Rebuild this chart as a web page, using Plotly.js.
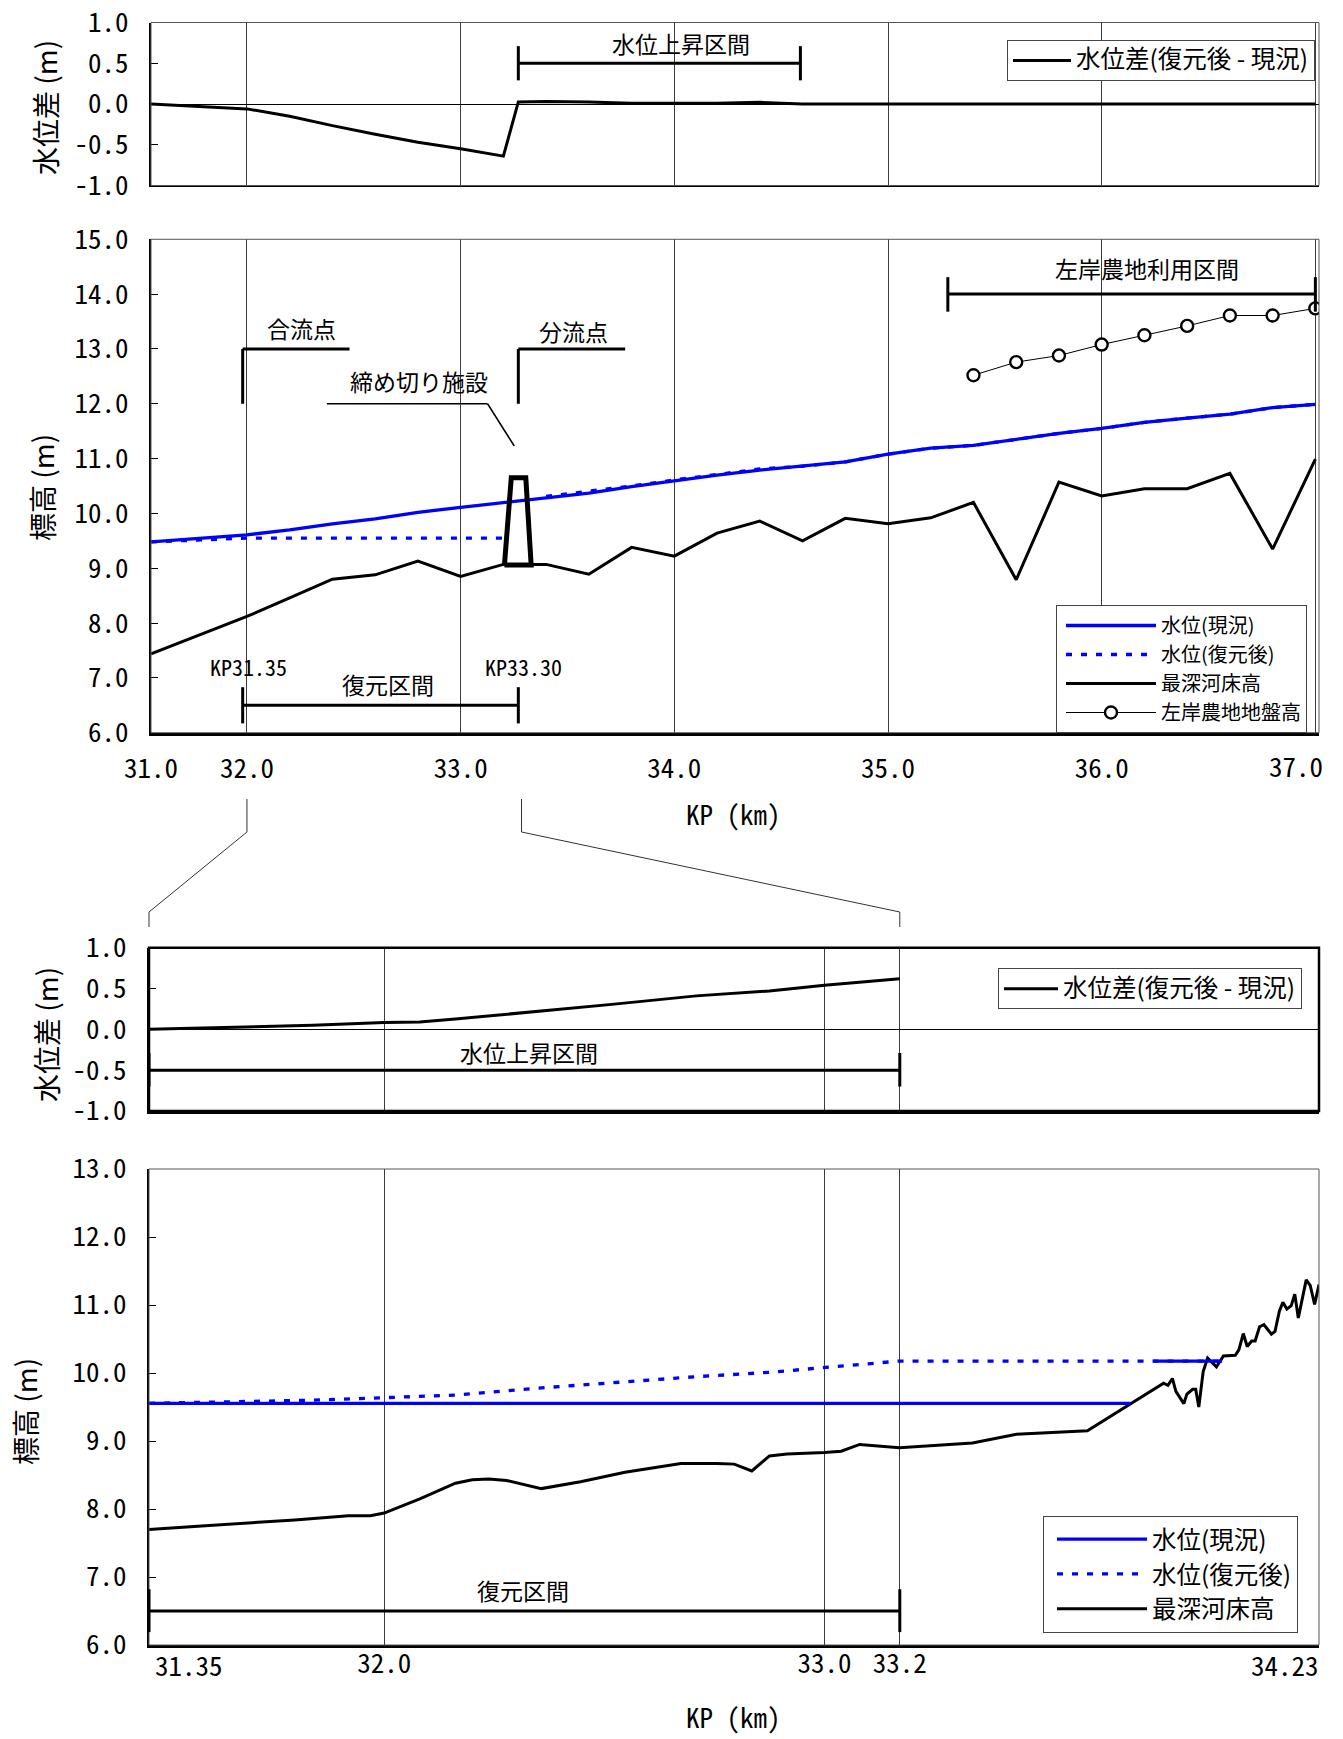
<!DOCTYPE html>
<html>
<head>
<meta charset="utf-8">
<script src="https://cdn.plot.ly/plotly-3.0.1.min.js"></script>
<style>
  html, body { margin: 0; padding: 0; background: #fff; }
  #chart { width: 1343px; height: 1739px; }
</style>
</head>
<body>
<div id="chart"></div>
<script>
// ===== Longitudinal profile, KP 31.0 - 37.0 =====
const kp = [31.551, 32.0, 32.2, 32.4, 32.6, 32.8, 33.0, 33.2, 33.27, 33.4, 33.6, 33.8, 34.0, 34.2,
            34.4, 34.6, 34.8, 35.0, 35.2, 35.4, 35.6, 35.8, 36.0, 36.2, 36.4, 36.6, 36.8, 37.0];
const bedElev = [7.44, 8.12, 8.46, 8.80, 8.88, 9.13, 8.85, 9.07, 9.07, 9.07, 8.89, 9.38, 9.22, 9.64,
                 9.86, 9.50, 9.91, 9.81, 9.92, 10.20, 8.79, 10.57, 10.32, 10.45, 10.45, 10.73, 9.35, 10.99];
const wlNow = [9.48, 9.61, 9.70, 9.81, 9.90, 10.02, 10.11, 10.20, 10.23, 10.28, 10.37, 10.49, 10.60, 10.70,
               10.79, 10.86, 10.94, 11.08, 11.19, 11.24, 11.35, 11.46, 11.55, 11.66, 11.74, 11.81, 11.93, 11.99];
// restored level: the null marks the cut-off structure, where the line is broken
const wlRestored = [9.48, 9.55, 9.55, 9.55, 9.54, 9.55, 9.55, 9.55, null, 10.31, 10.40, 10.50, 10.61, 10.71,
                    10.81, 10.86, 10.94, 11.08, 11.19, 11.24, 11.35, 11.46, 11.55, 11.66, 11.74, 11.81, 11.93, 11.99];
const wlDiff = [0.0, -0.06, -0.15, -0.265, -0.37, -0.47, -0.55, -0.64, 0.025, 0.03, 0.025, 0.01, 0.01, 0.01,
                0.02, 0.0, 0.0, 0.0, 0.0, 0.0, 0.0, 0.0, 0.0, 0.0, 0.0, 0.0, 0.0, 0.0];

// left-bank farmland ground level
const farmKp = [35.4, 35.6, 35.8, 36.0, 36.2, 36.4, 36.6, 36.8, 37.0];
const farmElev = [12.52, 12.76, 12.88, 13.08, 13.25, 13.42, 13.61, 13.61, 13.74];

// cut-off structure outline (KP, elevation)
const damKp = [33.205, 33.237, 33.305, 33.330, 33.205];
const damElev = [9.06, 10.65, 10.65, 9.06, 9.06];

// axis ticks, upper profile
const kpTickVals = [31.551, 32, 33, 34, 35, 36, 37];
const kpTickText = ['31.0', '32.0', '33.0', '34.0', '35.0', '36.0', ''];
const kpRange = [31.551, 37.017];

// sections / callouts, upper profile
const riseSection = [33.27, 34.59];
const restoreSection = [31.98, 33.27];
const farmSection = [35.28, 37.0];
const confluenceKp = 31.98;
const bifurcationKp = 33.27;

// ===== Enlarged profile, KP 31.35 - 34.23 =====
const zKp = [31.466, 31.675, 31.838, 32.0, 32.081, 32.162, 32.344, 32.517, 32.709, 32.875, 33.0, 33.171];
const zDiff = [0.0, 0.03, 0.05, 0.085, 0.09, 0.126, 0.216, 0.306, 0.41, 0.47, 0.54, 0.62];
const zRestKp = [31.466, 31.675, 31.838, 32.0, 32.081, 32.162, 32.344, 32.517, 32.709, 32.875, 33.0, 33.171, 33.747, 33.903];
const zRestored = [9.554, 9.575, 9.60, 9.637, 9.655, 9.675, 9.775, 9.86, 9.946, 10.01, 10.078, 10.176, 10.176, 10.176];
const zNowKp = [31.466, 33.695, 33.72, 33.747, 33.903];
const zNow = [9.554, 9.554, null, 10.176, 10.176];
const zBedKp = [31.466, 31.623, 31.706, 31.797, 31.919, 31.969, 32.0, 32.081, 32.162, 32.20, 32.238, 32.278,
                32.357, 32.446, 32.547, 32.628, 32.674, 32.754, 32.795, 32.835, 32.875, 32.915, 33.0, 33.038,
                33.08, 33.17, 33.251, 33.336, 33.436, 33.597, 33.77, 33.78, 33.79, 33.798, 33.816, 33.823,
                33.836, 33.843, 33.85, 33.86, 33.87, 33.89, 33.906, 33.933, 33.941, 33.951, 33.96, 33.97,
                33.978, 33.988, 33.998, 34.015, 34.023, 34.033, 34.041, 34.05, 34.06, 34.068, 34.076,
                34.085, 34.094, 34.103, 34.113, 34.123];
const zBed = [7.70, 7.765, 7.80, 7.84, 7.90, 7.90, 7.94, 8.15, 8.38, 8.43, 8.44, 8.42,
              8.30, 8.40, 8.54, 8.63, 8.67, 8.67, 8.66, 8.56, 8.78, 8.81, 8.83, 8.85,
              8.95, 8.90, 8.93, 8.97, 9.10, 9.15, 9.85, 9.82, 9.92, 9.73, 9.55, 9.69,
              9.76, 9.76, 9.50, 10.02, 10.22, 10.09, 10.25, 10.26, 10.34, 10.58, 10.39, 10.47,
              10.47, 10.68, 10.71, 10.57, 10.61, 10.91, 11.04, 10.94, 10.99, 11.16, 10.81,
              11.12, 11.37, 11.29, 11.01, 11.30];
const zTickVals = [31.466, 32, 33, 33.171, 34.123];
const zTickText = ['', '32.0', '33.0', '33.2', ''];
const zRange = [31.466, 34.123];
const zSection = [31.466, 33.171];

// ===== page geometry =====
const W = 1343, H = 1739;
const boxTop   = {l: 151, r: 1319, t: 22.5,  b: 185.5,  xr: kpRange, yr: [-1, 1]};
const boxMain  = {l: 151, r: 1319, t: 239.3, b: 732.7,  xr: kpRange, yr: [6, 15]};
const boxZDiff = {l: 149, r: 1319, t: 947.7, b: 1111,   xr: zRange,  yr: [-1, 1]};
const boxZMain = {l: 149, r: 1319, t: 1169,  b: 1645,   xr: zRange,  yr: [6, 13]};

const MONO = '"Noto Sans Mono CJK JP", "Noto Sans CJK JP", "DejaVu Sans Mono", monospace';
const JP = '"Noto Sans CJK JP", "Noto Sans", sans-serif';

// data -> page pixel helpers
const pxX = (b, v) => b.l + (v - b.xr[0]) / (b.xr[1] - b.xr[0]) * (b.r - b.l);
const pxY = (b, v) => b.b - (v - b.yr[0]) / (b.yr[1] - b.yr[0]) * (b.b - b.t);
const paperLine = (x0, y0, x1, y1, w, c) => ({
  type: 'line', xref: 'paper', yref: 'paper',
  x0: x0 / W, y0: 1 - y0 / H, x1: x1 / W, y1: 1 - y1 / H,
  line: {color: c || '#000', width: w}, layer: 'above'
});
const dataLine = (b, xa, ya, xb, yb, w, c) =>
  paperLine(pxX(b, xa), pxY(b, ya), pxX(b, xb), pxY(b, yb), w, c);
const frame = (b, w, c) => ({
  type: 'rect', xref: 'paper', yref: 'paper',
  x0: b.l / W, x1: b.r / W, y0: 1 - b.b / H, y1: 1 - b.t / H,
  line: {color: c, width: w}, fillcolor: 'rgba(0,0,0,0)', layer: 'above'
});
// horizontal section bar with end ticks
const sectionBar = (b, xa, xb, y, tLo, tHi, w) => [
  dataLine(b, xa, y, xb, y, w),
  dataLine(b, xa, tLo, xa, tHi, w),
  dataLine(b, xb, tLo, xb, tHi, w)
];

const domX = b => [b.l / W, b.r / W];
const domY = b => [1 - b.b / H, 1 - b.t / H];

function xAxis(b, vals, texts, showLabels, anchor, lw, standoff) {
  return {
    domain: domX(b), range: b.xr, anchor: anchor,
    tickmode: 'array', tickvals: vals, ticktext: texts,
    showticklabels: showLabels, ticks: '',
    showgrid: true, gridcolor: '#3c3c3c', gridwidth: 1,
    showline: true, linecolor: '#000', linewidth: lw,
    zeroline: false, fixedrange: true,
    tickfont: {family: MONO, size: 27, color: '#000'},
    ticklabelstandoff: standoff, ticklabeloverflow: 'allow'
  };
}
function yAxis(b, vals, texts, anchor, zero) {
  return {
    domain: domY(b), range: b.yr, anchor: anchor,
    tickmode: 'array', tickvals: vals, ticktext: texts,
    ticks: 'inside', ticklen: 7, tickwidth: 1, tickcolor: '#000',
    showline: true, linecolor: '#000', linewidth: 2,
    showgrid: false, zeroline: zero, zerolinecolor: '#000', zerolinewidth: 1,
    fixedrange: true,
    tickfont: {family: MONO, size: 27, color: '#000'},
    ticklabelstandoff: 15, ticklabeloverflow: 'allow'
  };
}

const diffTicks = [-1, -0.5, 0, 0.5, 1];
const diffTickText = ['-1.0', '-0.5', '0.0', '0.5', '1.0'];
const mainTicks = [6, 7, 8, 9, 10, 11, 12, 13, 14, 15];
const zMainTicks = [6, 7, 8, 9, 10, 11, 12, 13];

const BLUE = '#0000ff';
const DOT = '6px,9px';
// single-row legend label drawn larger than the row pitch the legend reserves
const big = (s, px) => '<span style="font-size:' + px + 'px">' + s + '</span>';

const traces = [
  // upper difference
  {x: kp, y: wlDiff, xaxis: 'x', yaxis: 'y', mode: 'lines', name: big('水位差(復元後 - 現況)', 24.5),
   line: {color: '#000', width: 3}, legend: 'legend'},

  // upper profile
  {x: kp, y: bedElev, xaxis: 'x2', yaxis: 'y2', mode: 'lines', name: '最深河床高',
   line: {color: '#000', width: 3}, legend: 'legend2', legendrank: 3},
  {x: kp, y: wlNow, xaxis: 'x2', yaxis: 'y2', mode: 'lines', name: '水位(現況)',
   line: {color: BLUE, width: 3.3}, legend: 'legend2', legendrank: 1},
  {x: kp, y: wlRestored, xaxis: 'x2', yaxis: 'y2', mode: 'lines', name: '水位(復元後)',
   line: {color: BLUE, width: 3.3, dash: DOT}, connectgaps: false, legend: 'legend2', legendrank: 2},
  {x: damKp, y: damElev, xaxis: 'x2', yaxis: 'y2', mode: 'lines', showlegend: false,
   line: {color: '#000', width: 5}},
  {x: farmKp, y: farmElev, xaxis: 'x2', yaxis: 'y2', mode: 'lines+markers', name: '左岸農地地盤高',
   line: {color: '#000', width: 1},
   marker: {symbol: 'circle', size: 12, color: '#fff', line: {color: '#000', width: 2.4}},
   legend: 'legend2', legendrank: 4},

  // enlarged difference
  {x: zKp, y: zDiff, xaxis: 'x3', yaxis: 'y3', mode: 'lines', name: big('水位差(復元後 - 現況)', 24.5),
   line: {color: '#000', width: 3}, legend: 'legend3'},

  // enlarged profile
  {x: zBedKp, y: zBed, xaxis: 'x4', yaxis: 'y4', mode: 'lines', name: '最深河床高',
   line: {color: '#000', width: 3}, legend: 'legend4', legendrank: 3},
  {x: zNowKp, y: zNow, xaxis: 'x4', yaxis: 'y4', mode: 'lines', name: '水位(現況)',
   line: {color: BLUE, width: 3.3}, connectgaps: false, legend: 'legend4', legendrank: 1},
  {x: zRestKp, y: zRestored, xaxis: 'x4', yaxis: 'y4', mode: 'lines', name: '水位(復元後)',
   line: {color: BLUE, width: 3.3, dash: DOT}, legend: 'legend4', legendrank: 2}
];

// ----- shapes: frames, section bars, callouts, zoom connectors -----
let shapes = [
  frame(boxTop, 1, '#555'),
  frame(boxMain, 1, '#555'),
  frame(boxZDiff, 2.5, '#000'),
  frame(boxZMain, 1, '#555')
];
shapes = shapes.concat(
  sectionBar(boxTop, riseSection[0], riseSection[1], 0.5, 0.29, 0.71, 3),
  sectionBar(boxMain, farmSection[0], farmSection[1], 14.0, 13.68, 14.31, 3),
  sectionBar(boxMain, restoreSection[0], restoreSection[1], 6.5, 6.17, 6.83, 3),
  sectionBar(boxZDiff, zSection[0], zSection[1], -0.5, -0.29, -0.70, 3),
  sectionBar(boxZMain, zSection[0], zSection[1], 6.5, 6.19, 6.82, 3),
  [
    // 合流点 / 分流点 callouts
    dataLine(boxMain, confluenceKp, 12.0, confluenceKp, 13.0, 3),
    dataLine(boxMain, confluenceKp, 13.0, confluenceKp + 0.5, 13.0, 3),
    dataLine(boxMain, bifurcationKp, 12.0, bifurcationKp, 13.0, 3),
    dataLine(boxMain, bifurcationKp, 13.0, bifurcationKp + 0.5, 13.0, 3),
    // leader to the cut-off structure
    dataLine(boxMain, 32.374, 12.0, 33.126, 12.0, 1.5),
    dataLine(boxMain, 33.126, 12.0, 33.251, 11.23, 1.5)
  ]
);
// connectors from the upper profile down to the enlarged section
const cL0 = pxX(boxMain, 32.0), cR0 = pxX(boxMain, 33.285);
const cL1 = boxZDiff.l, cR1 = pxX(boxZDiff, zSection[1]);
shapes.push(
  paperLine(cL0, 799, cL0, 832, 1, '#333'), paperLine(cL0, 832, cL1, 912, 1, '#333'),
  paperLine(cL1, 912, cL1, 927, 1, '#333'),
  paperLine(cR0, 799, cR0, 832, 1, '#333'), paperLine(cR0, 832, cR1, 912, 1, '#333'),
  paperLine(cR1, 912, cR1, 927, 1, '#333')
);

// ----- annotations -----
const txt = (xref, yref, x, y, text, font, extra) => Object.assign({
  xref: xref, yref: yref, x: x, y: y, text: text, showarrow: false,
  xanchor: 'center', yanchor: 'middle', font: font
}, extra || {});
const fJP = {family: JP, size: 23, color: '#000'};
const fKP = {family: MONO, size: 22, color: '#000'};
const fTick = {family: MONO, size: 27, color: '#000'};
const fTitle = {family: JP, size: 28, color: '#000'};
const fXTitle = {family: MONO, size: 27, color: '#000'};

const annotations = [
  txt('x', 'y', 34.031, 0.743, '水位上昇区間', fJP),
  txt('x2', 'y2', 36.21, 14.47, '左岸農地利用区間', fJP),
  txt('x2', 'y2', 32.253, 13.39, '合流点', fJP),
  txt('x2', 'y2', 33.529, 13.33, '分流点', fJP),
  txt('x2', 'y2', 32.805, 12.42, '締め切り施設', fJP),
  txt('x2', 'y2', 32.008, 7.21, 'KP31.35', fKP),
  txt('x2', 'y2', 33.292, 7.21, 'KP33.30', fKP),
  txt('x2', 'y2', 32.658, 6.89, '復元区間', fJP),
  txt('x3', 'y3', 32.329, -0.28, '水位上昇区間', fJP),
  txt('x4', 'y4', 32.316, 6.81, '復元区間', fJP),
  // end tick labels, pulled inside the axis ends
  txt('paper', 'paper', 1296 / W, 1 - 766 / H, '37.0', fTick),
  txt('paper', 'paper', 153 / W, 1 - 1664 / H, '31.35', fTick, {xanchor: 'left'}),
  txt('paper', 'paper', 1321 / W, 1 - 1664 / H, '34.23', fTick, {xanchor: 'right'}),
  // axis titles
  txt('paper', 'paper', 45 / W, 1 - 108 / H, '水位差 (m)', fTitle, {textangle: -90}),
  txt('paper', 'paper', 42 / W, 1 - 488 / H, '標高 (m)', fTitle, {textangle: -90}),
  txt('paper', 'paper', 46 / W, 1 - 1035 / H, '水位差 (m)', fTitle, {textangle: -90}),
  txt('paper', 'paper', 25 / W, 1 - 1412 / H, '標高 (m)', fTitle, {textangle: -90}),
  txt('paper', 'paper', 733 / W, 1 - 813 / H, 'KP (km)', fXTitle),
  txt('paper', 'paper', 733 / W, 1 - 1738 / H, 'KP (km)', fXTitle, {yanchor: 'bottom'})
];

const legendBase = (x, y, size) => ({
  x: x / W, y: 1 - y / H, xanchor: 'right', yanchor: 'top',
  bgcolor: '#fff', bordercolor: '#444', borderwidth: 1,
  font: {family: JP, size: size, color: '#000'},
  itemwidth: 90, traceorder: 'normal', tracegroupgap: 0
});

const layout = {
  width: W, height: H,
  margin: {l: 0, r: 0, t: 0, b: 0, pad: 0},
  paper_bgcolor: '#fff', plot_bgcolor: '#fff',
  showlegend: true, hovermode: false,
  xaxis: xAxis(boxTop, kpTickVals, kpTickText, false, 'y', 1.5, 0),
  yaxis: yAxis(boxTop, diffTicks, diffTickText, 'x', true),
  xaxis2: xAxis(boxMain, kpTickVals, kpTickText, true, 'y2', 3, 10),
  yaxis2: yAxis(boxMain, mainTicks, mainTicks.map(v => v.toFixed(1)), 'x2', false),
  xaxis3: xAxis(boxZDiff, zTickVals, zTickText, false, 'y3', 2.5, 0),
  yaxis3: yAxis(boxZDiff, diffTicks, diffTickText, 'x3', true),
  xaxis4: xAxis(boxZMain, zTickVals, zTickText, true, 'y4', 3, -7),
  yaxis4: yAxis(boxZMain, zMainTicks, zMainTicks.map(v => v.toFixed(1)), 'x4', false),
  legend: Object.assign(legendBase(1315, 40, 20), {itemwidth: 58}),
  legend2: Object.assign(legendBase(1307, 605, 20), {indentation: 4}),
  legend3: Object.assign(legendBase(1302, 968.3, 20), {itemwidth: 54}),
  legend4: Object.assign(legendBase(1298, 1515.7, 24.5), {indentation: 8}),
  shapes: shapes,
  annotations: annotations
};

Plotly.newPlot('chart', traces, layout, {staticPlot: true, displayModeBar: false});
</script>
</body>
</html>
